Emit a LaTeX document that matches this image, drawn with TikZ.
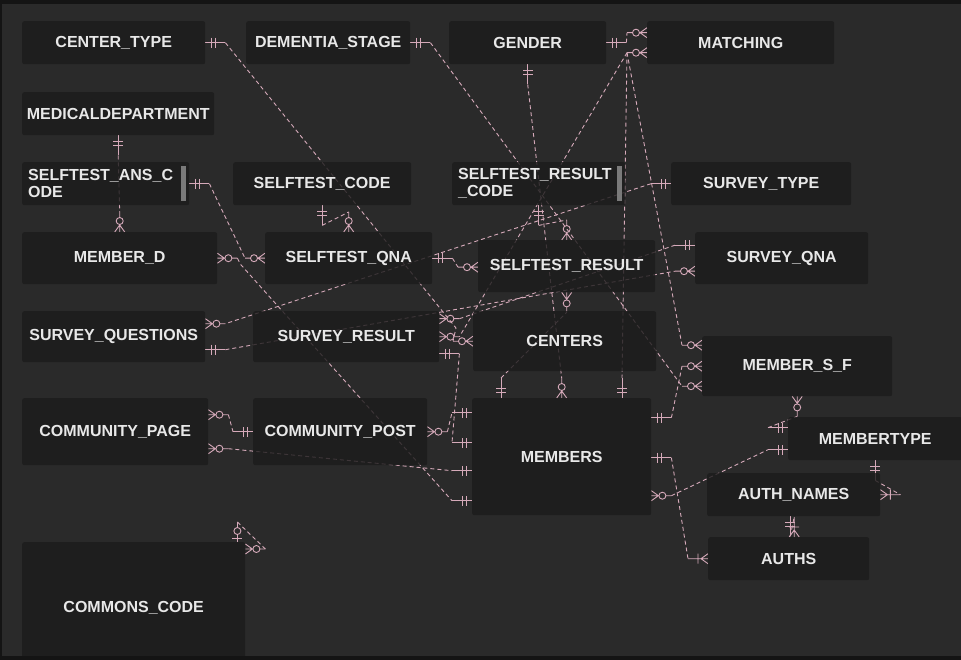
\documentclass[tikz,border=0pt]{standalone}
\usepackage{fontspec}
\setmainfont{Liberation Sans}
\usetikzlibrary{calc}
\definecolor{bgc}{HTML}{2A2A2A}
\definecolor{boxc}{HTML}{1C1C1C}
\definecolor{edgec}{HTML}{141414}
\definecolor{relc}{RGB}{214,170,186}
\definecolor{txtc}{HTML}{E8E8E8}
\definecolor{barc}{HTML}{7A7A7A}
\pgfdeclarelayer{back}\pgfdeclarelayer{lines}
\pgfsetlayers{back,lines,main}
\tikzset{
 ent/.style={draw=none, fill=boxc, fill opacity=0.82, text opacity=1, text=txtc,
   font=\bfseries\fontsize{16}{17}\selectfont, rounded corners=2pt, inner sep=0pt, anchor=north west},
 rel/.style={draw=relc, line width=0.9pt, dash pattern=on 4pt off 3pt},
 mk/.style={draw=relc, line width=0.9pt, solid},
 mkone/.pic={\draw[mk] (0,0)--(20,0) (6,-5)--(6,5) (10,-5)--(10,5);},
 mkzm/.pic={\draw[mk] (0,-5)--(7,0)--(0,5) (0,0)--(7.5,0) (14.5,0)--(20,0); \draw[mk] (11,0) circle[radius=3.5pt];},
 mkom/.pic={\draw[mk] (0,-5)--(7,0)--(0,5) (0,0)--(20,0) (10,-5)--(10,5);},
 mkzo/.pic={\draw[mk] (0,0)--(7.5,0) (14.5,0)--(20,0) (4,-5)--(4,5); \draw[mk] (11,0) circle[radius=3.5pt];}
}
\begin{document}
\begin{tikzpicture}[x=1pt,y=-1pt]
\useasboundingbox (0,0) rectangle (961,660);
\begin{pgfonlayer}{back}
\fill[bgc] (0,0) rectangle (961,660);
\end{pgfonlayer}
% entities
\node[ent, minimum width=183pt, minimum height=43pt] (ct) at (22,21) {CENTER\_TYPE};
\node[ent, minimum width=164pt, minimum height=43pt] (ds) at (246,21) {DEMENTIA\_STAGE};
\node[ent, minimum width=157pt, minimum height=43pt] (gen) at (449,21) {GENDER};
\node[ent, minimum width=187pt, minimum height=43pt] (mat) at (647,21) {MATCHING};
\node[ent, minimum width=192pt, minimum height=43pt] (med) at (22,92) {MEDICALDEPARTMENT};
\node[ent, minimum width=167pt, minimum height=43pt, text width=155pt, align=left, inner xsep=6pt] (sac) at (22,162) {SELFTEST\_ANS\_C\\ODE};
\node[ent, minimum width=178pt, minimum height=43pt] (sc) at (233,162) {SELFTEST\_CODE};
\node[ent, minimum width=173pt, minimum height=43pt, text width=161pt, align=left, inner xsep=6pt] (src) at (452,162) {SELFTEST\_RESULT\\\_CODE};
\node[ent, minimum width=180pt, minimum height=43pt] (st) at (671,162) {SURVEY\_TYPE};
\node[ent, minimum width=195pt, minimum height=52pt] (md) at (22,232) {MEMBER\_D};
\node[ent, minimum width=167pt, minimum height=52pt] (sq) at (265,232) {SELFTEST\_QNA};
\node[ent, minimum width=177pt, minimum height=52pt] (sres) at (478,240) {SELFTEST\_RESULT};
\node[ent, minimum width=173pt, minimum height=52pt] (sqna) at (695,232) {SURVEY\_QNA};
\node[ent, minimum width=183pt, minimum height=51pt] (squ) at (22,311) {SURVEY\_QUESTIONS};
\node[ent, minimum width=186pt, minimum height=51pt] (sr) at (253,311) {SURVEY\_RESULT};
\node[ent, minimum width=183pt, minimum height=60pt] (cen) at (473,311) {CENTERS};
\node[ent, minimum width=190pt, minimum height=60pt] (msf) at (702,336) {MEMBER\_S\_F};
\node[ent, minimum width=186pt, minimum height=67pt] (cpg) at (22,398) {COMMUNITY\_PAGE};
\node[ent, minimum width=174pt, minimum height=67pt] (cps) at (253,398) {COMMUNITY\_POST};
\node[ent, minimum width=179pt, minimum height=117pt] (mem) at (472,398) {MEMBERS};
\node[ent, minimum width=174pt, minimum height=43pt] (mt) at (788,417) {MEMBERTYPE};
\node[ent, minimum width=173pt, minimum height=43pt] (an) at (707,473) {AUTH\_NAMES};
\node[ent, minimum width=161pt, minimum height=43pt] (au) at (708,537) {AUTHS};
\node[ent, minimum width=223pt, minimum height=132pt] (cc) at (22,542) {COMMONS\_CODE};
\fill[barc] (181,166) rectangle (186,201);
\fill[barc] (617,166) rectangle (622,201);
% relations
\begin{pgfonlayer}{lines}
% CENTER_TYPE - CENTERS
\pic at (ct.east) {mkone};
\pic[rotate=180] at (cen.west) {mkzm};
\draw[rel] ($(ct.east)+(20,0)$) -- (456,328) -- ($(cen.west)+(-20,0)$);
% DEMENTIA_STAGE - MEMBER_S_F
\pic at (ds.east) {mkone};
\pic[rotate=180] at ($(msf.west)+(0,20)$) {mkzm};
\draw[rel] ($(ds.east)+(20,0)$) -- ($(msf.west)+(-20,20)$);
% GENDER - MEMBERS
\pic[rotate=-90] at (gen.south) {mkone};
\pic[rotate=90] at (mem.north) {mkzm};
\draw[rel] ($(gen.south)+(0,20)$) -- ($(mem.north)+(0,-20)$);
% GENDER - MATCHING
\pic at (gen.east) {mkone};
\pic[rotate=180] at ($(mat.west)+(0,-10)$) {mkzm};
\draw[rel] ($(gen.east)+(20,0)$) -- ($(mat.west)+(-20,-10)$);
% MATCHING - MEMBERS
\pic[rotate=180] at ($(mat.west)+(0,10)$) {mkzm};
\pic[rotate=90] at ($(mem.north west)+(150,0)$) {mkone};
\draw[rel] ($(mat.west)+(-20,10)$) -- ($(mem.north west)+(150,-20)$);
% MATCHING - MEMBER_S_F
\pic[rotate=180] at ($(msf.west)+(0,-21)$) {mkzm};
\draw[rel] ($(mat.west)+(-20,10)$) -- ($(msf.west)+(-20,-21)$);
% MATCHING - SURVEY_RESULT
\pic at (sr.east) {mkzm};
\draw[rel] ($(mat.west)+(-20,10)$) -- ($(sr.east)+(20,0)$);
% SURVEY_RESULT - SURVEY_QNA
\pic at ($(sr.east)+(0,-18)$) {mkzm};
\pic[rotate=180] at ($(sqna.west)+(0,-13)$) {mkone};
\draw[rel] ($(sr.east)+(20,-18)$) -- ($(sqna.west)+(-20,-13)$);
% SURVEY_RESULT - MEMBERS
\pic at ($(sr.east)+(0,17)$) {mkone};
\pic[rotate=180] at ($(mem.west)+(0,-14)$) {mkone};
\draw[rel] ($(sr.east)+(20,17)$) -- ($(mem.west)+(-20,-14)$);
% COMMUNITY_POST - MEMBERS
\pic at (cps.east) {mkzm};
\pic[rotate=180] at ($(mem.west)+(0,-44)$) {mkone};
\draw[rel] ($(cps.east)+(20,0)$) -- ($(mem.west)+(-20,-44)$);
% COMMUNITY_PAGE - MEMBERS
\pic at ($(cpg.east)+(0,17)$) {mkzm};
\pic[rotate=180] at ($(mem.west)+(0,14)$) {mkone};
\draw[rel] ($(cpg.east)+(20,17)$) -- ($(mem.west)+(-20,14)$);
% MEMBER_D - MEMBERS
\pic at (md.east) {mkzm};
\pic[rotate=180] at ($(mem.west)+(0,44)$) {mkone};
\draw[rel] ($(md.east)+(20,0)$) -- ++(3,6) -- ($(mem.west)+(-20,44)$);
% COMMUNITY_PAGE - COMMUNITY_POST
\pic at ($(cpg.east)+(0,-17)$) {mkzm};
\pic[rotate=180] at (cps.west) {mkone};
\draw[rel] ($(cpg.east)+(20,-17)$) -- ($(cps.west)+(-20,0)$);
% SELFTEST_ANS_CODE - SELFTEST_QNA
\pic at (sac.east) {mkone};
\pic[rotate=180] at (sq.west) {mkzm};
\draw[rel] ($(sac.east)+(20,0)$) -- ($(sq.west)+(-20,0)$);
% MEDICALDEPARTMENT - MEMBER_D
\pic[rotate=-90] at (med.south) {mkone};
\pic[rotate=90] at (md.north) {mkzm};
\draw[rel] ($(med.south)+(0,20)$) -- ($(md.north)+(0,-20)$);
% SELFTEST_CODE - SELFTEST_QNA
\pic[rotate=-90] at (sc.south) {mkone};
\pic[rotate=90] at (sq.north) {mkzm};
\draw[rel] ($(sc.south)+(0,20)$) -- ($(sq.north)+(0,-20)$);
% SELFTEST_QNA - SELFTEST_RESULT
\pic at (sq.east) {mkone};
\pic[rotate=180] at ($(sres.west)+(0,1)$) {mkzm};
\draw[rel] ($(sq.east)+(20,0)$) -- ($(sres.west)+(-20,1)$);
% SELFTEST_RESULT_CODE - SELFTEST_RESULT
\pic[rotate=-90] at (src.south) {mkone};
\pic[rotate=90] at (sres.north) {mkzm};
\draw[rel] ($(src.south)+(0,20)$) -- ($(sres.north)+(0,-20)$);
% SURVEY_TYPE - SURVEY_QUESTIONS
\pic[rotate=180] at (st.west) {mkone};
\pic at ($(squ.east)+(0,-13)$) {mkzm};
\draw[rel] ($(st.west)+(-20,0)$) -- ($(squ.east)+(20,-13)$);
% SURVEY_QUESTIONS - SURVEY_QNA
\pic at ($(squ.east)+(0,13)$) {mkone};
\pic[rotate=180] at ($(sqna.west)+(0,13)$) {mkzm};
\draw[rel] ($(squ.east)+(20,13)$) -- ($(sqna.west)+(-20,13)$);
% MEMBERS - SELFTEST_RESULT
\pic[rotate=90] at ($(mem.north west)+(29,0)$) {mkone};
\pic[rotate=-90] at (sres.south) {mkzm};
\draw[rel] ($(mem.north west)+(29,-20)$) -- ++(5,-5) -- ($(sres.south)+(0,20)$);
% MEMBERS - MEMBER_S_F
\pic at ($(mem.east)+(0,-39)$) {mkone};
\pic[rotate=180] at (msf.west) {mkzm};
\draw[rel] ($(mem.east)+(20,-39)$) -- ($(msf.west)+(-20,0)$);
% MEMBERS - AUTHS
\pic at ($(mem.east)+(0,1)$) {mkone};
\pic[rotate=180] at (au.west) {mkom};
\draw[rel] ($(mem.east)+(20,1)$) -- ($(au.west)+(-20,0)$);
% MEMBERS - MEMBERTYPE
\pic at ($(mem.east)+(0,39)$) {mkzm};
\pic[rotate=180] at ($(mt.west)+(0,11)$) {mkone};
\draw[rel] ($(mem.east)+(20,39)$) -- ($(mt.west)+(-20,11)$);
% MEMBERTYPE - MEMBER_S_F
\pic[rotate=180] at ($(mt.west)+(0,-11)$) {mkone};
\pic[rotate=-90] at (msf.south) {mkzm};
\draw[rel] ($(mt.west)+(-20,-11)$) -- ($(msf.south)+(0,20)$);
% MEMBERTYPE - AUTH_NAMES
\pic[rotate=-90] at (mt.south) {mkone};
\pic at (an.east) {mkom};
\draw[rel] ($(mt.south)+(0,20)$) -- ($(an.east)+(20,0)$);
% AUTH_NAMES - AUTHS
\pic[rotate=-90] at ($(an.south)+(-3.5,0)$) {mkone};
\pic[rotate=90] at ($(au.north)+(5.5,0)$) {mkom};
\draw[rel] ($(an.south)+(-3.5,20)$) -- ($(au.north)+(5.5,-20)$);
% COMMONS_CODE self relation
\pic[rotate=90] at ($(cc.north east)+(-8,0)$) {mkzo};
\pic at ($(cc.north east)+(0,7)$) {mkzm};
\draw[rel] ($(cc.north east)+(-8,-20)$) -- ($(cc.north east)+(20,7)$);
\end{pgfonlayer}
% frame edges
\fill[edgec] (0,0) rectangle (961,4);
\fill[edgec] (0,656) rectangle (961,660);
\fill[edgec] (0,0) rectangle (2,660);
\end{tikzpicture}
\end{document}
